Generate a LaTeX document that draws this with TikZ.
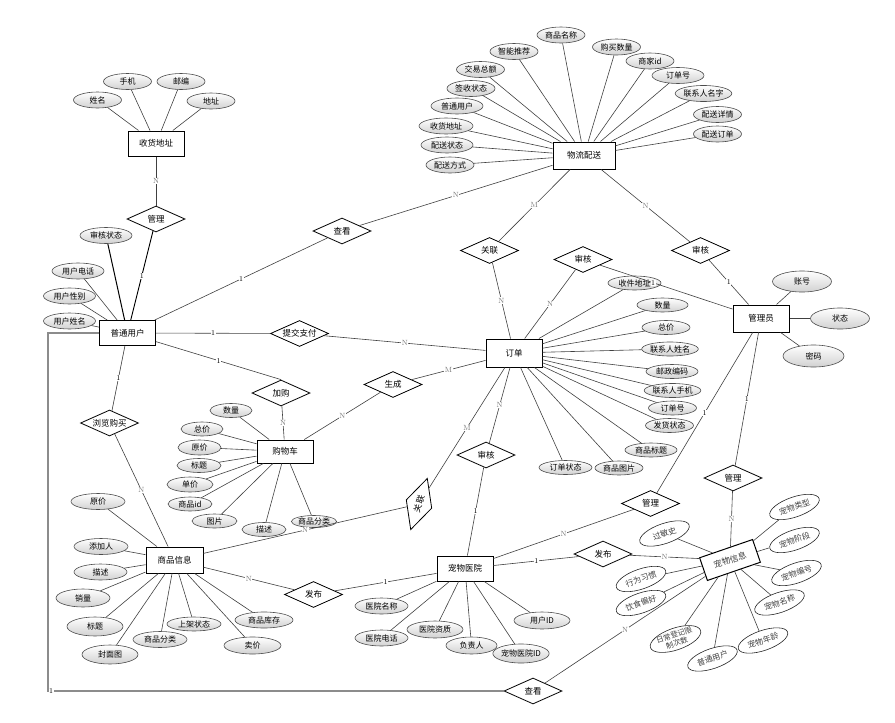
\documentclass[tikz,border=0pt]{standalone}
\usepackage{fontspec}
\newfontfamily\zhfont{Noto Sans CJK SC}
\usetikzlibrary{shapes.geometric}

\begin{document}
\begin{tikzpicture}[x=1pt,y=-1pt,line width=0.6pt,
  entity/.style={draw,line width=1pt,fill=white,minimum width=56,minimum height=25,inner sep=0,font=\zhfont\fontsize{8.5}{10}\selectfont},
  rel/.style={diamond,draw,line width=0.8pt,fill=white,aspect=2.2,minimum width=58,minimum height=26,inner sep=0,font=\zhfont\fontsize{8.5}{10}\selectfont},
  attr/.style={ellipse,draw=black!70,top color=white,bottom color=black!18,minimum width=48,minimum height=16,inner sep=0,font=\zhfont\fontsize{8}{9}\selectfont},
  petattr/.style={ellipse,draw=black!85,fill=white,rotate=19,minimum width=52,minimum height=20,inner sep=0,text=black!75,font=\zhfont\fontsize{8}{9}\selectfont},
  ln/.style={draw=black!75},
  cardn/.style={fill=white,inner sep=0.5pt,text=black!55,font=\fontsize{7.5}{8}\selectfont},
  cardone/.style={cardn,text=black}]
  \useasboundingbox (0,0) rectangle (895,723);

  \node[entity] (shdz) at (156,143.5) {收货地址};
  \node[entity] (ptyh) at (127.5,333) {普通用户};
  \node[entity,minimum width=62,minimum height=27] (wlps) at (584,155.5) {物流配送};
  \node[entity,minimum height=28] (dd) at (514,353) {订单};
  \node[entity,minimum height=27] (gly) at (761,318.5) {管理员};
  \node[entity,minimum height=23] (gwc) at (285,451.5) {购物车};
  \node[entity,minimum width=57,minimum height=26] (spxx) at (174.5,560) {商品信息};
  \node[entity] (cwyy) at (465,568.5) {宠物医院};
  \node[entity,rotate=19,minimum height=24,text=black!75] (cwxx) at (730,560) {宠物信息};

  \node[rel] (gl1) at (156,219) {管理};
  \node[rel] (ck1) at (342,231) {查看};
  \node[rel] (tjzf) at (299.5,333.5) {提交支付};
  \node[rel] (jg) at (281,393) {加购};
  \node[rel] (sc) at (393,384.5) {生成};
  \node[rel] (gx1) at (489.5,250.5) {关联};
  \node[rel] (sh1) at (583,259.5) {审核};
  \node[rel] (sh2) at (700.5,250.5) {审核};
  \node[rel] (llgm) at (109.5,423) {浏览购买};
  \node[rel] (sh3) at (486,455) {审核};
  \node[rel,rotate=72,minimum width=54,minimum height=27] (gx2) at (419,504) {关联};
  \node[rel] (gl2) at (650.5,503.5) {管理};
  \node[rel] (gl3) at (733,478) {管理};
  \node[rel] (fb1) at (313.5,594.5) {发布};
  \node[rel] (fb2) at (603,554) {发布};
  \node[rel] (ck2) at (533,691) {查看};

  \node[attr] (s1) at (97.5,100) {姓名};
  \node[attr] (s2) at (127.5,81.5) {手机};
  \node[attr] (s3) at (181,81.5) {邮编};
  \node[attr] (s4) at (211,101) {地址};
  \draw[ln] (s1) -- (shdz);
  \draw[ln] (s2) -- (shdz);
  \draw[ln] (s3) -- (shdz);
  \draw[ln] (s4) -- (shdz);

  \node[attr,minimum width=52] (u1) at (106,235.5) {审核状态};
  \node[attr,minimum width=52] (u2) at (78,271) {用户电话};
  \node[attr,minimum width=52] (u3) at (69.5,296) {用户性别};
  \node[attr,minimum width=52] (u4) at (69.5,321) {用户姓名};
  \draw[line width=1pt] (u1) -- (ptyh);
  \draw[ln] (u2) -- (ptyh);
  \draw[ln] (u3) -- (ptyh);
  \draw[ln] (u4) -- (ptyh);

  \node[attr] (w1) at (561,35) {商品名称};
  \node[attr] (w2) at (514,51.5) {智能推荐};
  \node[attr] (w3) at (616.5,47) {购买数量};
  \node[attr] (w4) at (650,61) {商家id};
  \node[attr,minimum width=52] (w5) at (678,75.5) {订单号};
  \node[attr,minimum width=53] (w6) at (703.5,93.5) {联系人名字};
  \node[attr] (w7) at (717.5,114.5) {配送详情};
  \node[attr] (w8) at (717.5,134) {配送订单};
  \node[attr] (w9) at (480.5,69.5) {交易总额};
  \node[attr] (w10) at (471,88.5) {签收状态};
  \node[attr,minimum width=52] (w11) at (457,106) {普通用户};
  \node[attr,minimum width=54] (w12) at (446,126) {收货地址};
  \node[attr,minimum width=52] (w13) at (447,145) {配送状态};
  \node[attr] (w14) at (450,165) {配送方式};
  \draw[ln] (w1) -- (wlps);
  \draw[ln] (w2) -- (wlps);
  \draw[ln] (w3) -- (wlps);
  \draw[ln] (w4) -- (wlps);
  \draw[ln] (w5) -- (wlps);
  \draw[ln] (w6) -- (wlps);
  \draw[ln] (w7) -- (wlps);
  \draw[ln] (w8) -- (wlps);
  \draw[ln] (w9) -- (wlps);
  \draw[ln] (w10) -- (wlps);
  \draw[ln] (w11) -- (wlps);
  \draw[ln] (w12) -- (wlps);
  \draw[ln] (w13) -- (wlps);
  \draw[ln] (w14) -- (wlps);

  \node[attr,minimum width=53,minimum height=14] (d1) at (634.5,283) {收件地址};
  \node[attr,minimum width=51,minimum height=14] (d2) at (662.5,305) {数量};
  \node[attr,minimum height=14] (d3) at (666,327.5) {总价};
  \node[attr,minimum width=52,minimum height=14] (d4) at (670,349) {联系人姓名};
  \node[attr,minimum width=52,minimum height=14] (d5) at (672,371.5) {邮政编码};
  \node[attr,minimum width=52,minimum height=14] (d6) at (672.5,390.5) {联系人手机};
  \node[attr,minimum height=14] (d7) at (672.5,408) {订单号};
  \node[attr,minimum height=14] (d8) at (669.5,425.5) {发货状态};
  \node[attr,minimum width=52,minimum height=14] (d9) at (651,450) {商品标题};
  \node[attr,minimum height=14] (d10) at (619,468) {商品图片};
  \node[attr,minimum width=53,minimum height=14] (d11) at (565.5,467.5) {订单状态};
  \draw[ln] (d1) -- (dd);
  \draw[ln] (d2) -- (dd);
  \draw[ln] (d3) -- (dd);
  \draw[ln] (d4) -- (dd);
  \draw[ln] (d5) -- (dd);
  \draw[ln] (d6) -- (dd);
  \draw[ln] (d7) -- (dd);
  \draw[ln] (d8) -- (dd);
  \draw[ln] (d9) -- (dd);
  \draw[ln] (d10) -- (dd);
  \draw[ln] (d11) -- (dd);

  \node[attr,minimum width=59,minimum height=21] (m1) at (802,281.5) {账号};
  \node[attr,minimum width=59,minimum height=21] (m2) at (840,318.5) {状态};
  \node[attr,minimum width=61,minimum height=22] (m3) at (813.5,356) {密码};
  \draw[ln] (m1) -- (gly);
  \draw[ln,line width=1pt] (m2) -- (gly);
  \draw[ln] (m3) -- (gly);

  \node[attr,minimum width=42,minimum height=14] (c1) at (231,410.5) {数量};
  \node[attr,minimum width=42,minimum height=14] (c2) at (202,429) {总价};
  \node[attr,minimum width=43,minimum height=15] (c3) at (199.5,447.5) {原价};
  \node[attr,minimum width=44,minimum height=14] (c4) at (199,465.5) {标题};
  \node[attr,minimum width=46,minimum height=15] (c5) at (190,484.5) {单价};
  \node[attr,minimum width=44,minimum height=14] (c6) at (190,504) {商品id};
  \node[attr,minimum width=45,minimum height=14] (c7) at (214.5,521) {图片};
  \node[attr,minimum width=44,minimum height=14] (c8) at (264,529.5) {描述};
  \node[attr,minimum width=44,minimum height=12] (c9) at (314,521.5) {商品分类};
  \draw[ln] (c1) -- (gwc);
  \draw[ln] (c2) -- (gwc);
  \draw[ln] (c3) -- (gwc);
  \draw[ln] (c4) -- (gwc);
  \draw[ln] (c5) -- (gwc);
  \draw[ln] (c6) -- (gwc);
  \draw[ln] (c7) -- (gwc);
  \draw[ln] (c8) -- (gwc);
  \draw[ln] (c9) -- (gwc);

  \node[attr,minimum width=54] (g1) at (98,501.5) {原价};
  \node[attr,minimum width=54] (g2) at (101,546.5) {添加人};
  \node[attr,minimum width=53] (g3) at (100.5,572) {描述};
  \node[attr,minimum width=54,minimum height=18] (g4) at (83,598) {销量};
  \node[attr,minimum width=56,minimum height=19] (g5) at (95,626.5) {标题};
  \node[attr,minimum width=56,minimum height=19] (g6) at (110,654.5) {封面图};
  \node[attr,minimum width=54] (g7) at (160,639.5) {商品分类};
  \node[attr,minimum width=54,minimum height=14] (g8) at (194,624) {上架状态};
  \node[attr,minimum width=58] (g9) at (264,620) {商品库存};
  \node[attr,minimum width=57,minimum height=17] (g10) at (252.5,645.5) {卖价};
  \draw[ln] (g1) -- (spxx);
  \draw[ln] (g2) -- (spxx);
  \draw[ln] (g3) -- (spxx);
  \draw[ln] (g4) -- (spxx);
  \draw[ln] (g5) -- (spxx);
  \draw[ln] (g6) -- (spxx);
  \draw[ln] (g7) -- (spxx);
  \draw[ln] (g8) -- (spxx);
  \draw[ln] (g9) -- (spxx);
  \draw[ln] (g10) -- (spxx);

  \node[attr,minimum width=53] (h1) at (381.5,606) {医院名称};
  \node[attr,minimum width=53] (h2) at (381.5,638) {医院电话};
  \node[attr,minimum width=56,minimum height=17] (h3) at (435,629.5) {医院资质};
  \node[attr,minimum width=51,minimum height=17] (h4) at (471.5,645.5) {负责人};
  \node[attr,minimum width=52,minimum height=19] (h5) at (521,653.5) {宠物医院ID};
  \node[attr,minimum width=56,minimum height=17] (h6) at (542,620.5) {用户ID};
  \draw[ln] (h1) -- (cwyy);
  \draw[ln] (h2) -- (cwyy);
  \draw[ln] (h3) -- (cwyy);
  \draw[ln] (h4) -- (cwyy);
  \draw[ln] (h5) -- (cwyy);
  \draw[ln] (h6) -- (cwyy);

  \node[petattr] (p1) at (664.5,533.5) {过敏史};
  \node[petattr] (p2) at (794.5,507) {宠物类型};
  \node[petattr] (p3) at (794.5,540) {宠物阶段};
  \node[petattr] (p4) at (796.5,573) {宠物编号};
  \node[petattr] (p5) at (779.5,602.5) {宠物名称};
  \node[petattr] (p6) at (763,640.5) {宠物年龄};
  \node[petattr] (p7) at (712.5,658.5) {普通用户};
  \node[petattr,align=center,font=\zhfont\fontsize{7.5}{8.5}\selectfont] (p8) at (675.5,639) {日常登记限\\制次数};
  \node[petattr] (p9) at (641,603) {饮食偏好};
  \node[petattr] (p10) at (641,579) {行为习惯};
  \draw[ln] (p1) -- (cwxx);
  \draw[ln] (p2) -- (cwxx);
  \draw[ln] (p3) -- (cwxx);
  \draw[ln] (p4) -- (cwxx);
  \draw[ln] (p5) -- (cwxx);
  \draw[ln] (p6) -- (cwxx);
  \draw[ln] (p7) -- (cwxx);
  \draw[ln] (p8) -- (cwxx);
  \draw[ln] (p9) -- (cwxx);
  \draw[ln] (p10) -- (cwxx);

  \draw[ln] (shdz) -- node[cardn] {N} (gl1);
  \draw[line width=0.9pt] (gl1) -- node[cardone] {1} (ptyh);
  \draw[ln] (ptyh) -- node[cardone] {1} (ck1);
  \draw[ln] (ck1) -- node[cardn] {N} (wlps);
  \draw[ln] (ptyh) -- node[cardone] {1} (tjzf);
  \draw[ln] (tjzf) -- node[cardn] {N} (dd);
  \draw[ln] (ptyh) -- node[cardone] {1} (jg.north);
  \draw[ln] (jg) -- node[cardn] {N} (gwc);
  \draw[ln] (gwc) -- node[cardn] {N} (sc);
  \draw[ln] (sc) -- node[cardn] {M} (dd);
  \draw[ln] (wlps) -- node[cardn] {M} (gx1);
  \draw[ln] (gx1) -- node[cardn] {N} (dd);
  \draw[ln] (dd) -- node[cardn] {N} (sh1);
  \draw[ln] (sh1) -- node[cardone,pos=0.4] {1} (gly);
  \draw[ln] (wlps) -- node[cardn] {N} (sh2);
  \draw[ln] (sh2) -- node[cardone] {1} (gly);
  \draw[ln] (ptyh) -- node[cardone] {1} (llgm);
  \draw[ln] (llgm) -- node[cardn] {N} (spxx);
  \draw[ln] (dd) -- node[cardn] {N} (sh3);
  \draw[ln] (sh3) -- node[cardone] {1} (cwyy);
  \draw[ln] (dd) -- node[cardn] {M} (gx2);
  \draw[ln] (gx2) -- node[cardn] {N} (spxx);
  \draw[ln] (spxx) -- node[cardn] {N} (fb1);
  \draw[ln] (fb1) -- node[cardone] {1} (cwyy);
  \draw[ln] (cwyy) -- node[cardn] {N} (gl2);
  \draw[ln] (gl2) -- node[cardone] {1} (gly);
  \draw[ln] (gly) -- node[cardone] {1} (gl3);
  \draw[ln] (gl3) -- node[cardn] {N} (cwxx);
  \draw[ln] (cwyy) -- node[cardone] {1} (fb2);
  \draw[ln] (fb2) -- node[cardn] {N} (cwxx);
  \draw[ln] (ck2) -- node[cardn] {N} (cwxx);

  \coordinate (corner) at (48,691);
  \draw[draw=black!45,line width=1.4pt] (ptyh.west) -| (corner) -- node[cardone,pos=0,anchor=west] {1} (ck2.west);
\end{tikzpicture}
\end{document}
